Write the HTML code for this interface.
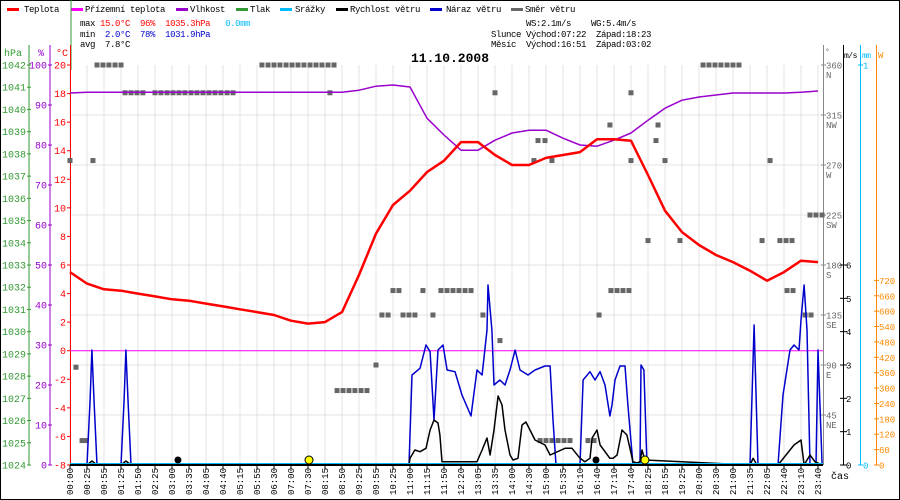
<!DOCTYPE html>
<html><head><meta charset="utf-8"><style>
html,body{margin:0;padding:0;background:#fff}
svg{display:block;font-family:"Liberation Mono","DejaVu Sans Mono",monospace}
svg text{white-space:pre}
</style></head><body>
<svg id="chart" width="900" height="500" viewBox="0 0 900 500">
<rect x="0.5" y="0.5" width="899" height="499" fill="#fff" stroke="#000"/>
<g id="grid"></g>
<g id="legend" font-size="9" letter-spacing="-0.4">
 <g><rect x="7" y="8" width="12" height="3" fill="#f00"/><text x="24" y="12">Teplota</text></g>
 <g><rect x="71" y="8" width="12" height="3" fill="#f0f"/><text x="85" y="12">Přízemní teplota</text></g>
 <g><rect x="176" y="8" width="12" height="3" fill="#90c"/><text x="190" y="12">Vlhkost</text></g>
 <g><rect x="236" y="8" width="12" height="3" fill="#393"/><text x="250" y="12">Tlak</text></g>
 <g><rect x="280" y="8" width="12" height="3" fill="#0bf"/><text x="295" y="12">Srážky</text></g>
 <g><rect x="336" y="8" width="12" height="3" fill="#000"/><text x="350" y="12">Rychlost větru</text></g>
 <g><rect x="430" y="8" width="12" height="3" fill="#00c"/><text x="446" y="12">Náraz větru</text></g>
 <g><rect x="511" y="8" width="12" height="3" fill="#666"/><text x="525" y="12">Směr větru</text></g>
</g>
<g font-size="9" letter-spacing="-0.4">
 <text x="80" y="26">max <tspan fill="#f00">15.0°C</tspan>  <tspan fill="#f00">96%</tspan>  <tspan fill="#f00">1035.3hPa</tspan>   <tspan fill="#0bf">0.0mm</tspan></text>
 <text x="80" y="37">min  <tspan fill="#00c">2.0°C</tspan>  <tspan fill="#00c">78%</tspan>  <tspan fill="#00c">1031.9hPa</tspan></text>
 <text x="80" y="47">avg  7.8°C</text>
 <text x="526" y="26">WS:2.1m/s    WG:5.4m/s</text>
 <text x="491" y="37">Slunce Východ:07:22  Západ:18:23</text>
 <text x="491" y="47">Měsíc  Východ:16:51  Západ:03:02</text>
</g>
<text x="450" y="62" font-size="13" font-weight="bold" text-anchor="middle">11.10.2008</text>
<g id="axes" font-size="10"></g>
<g id="series"></g>
</svg>
<script>
// ---- data ----
const timeLabels=["00:00","00:25","00:55","01:25","01:50","02:25","03:00","03:35","04:05","04:40","05:15","05:55","06:30","07:00","07:30","08:15","08:50","09:25","09:55","10:25","11:00","11:15","11:50","12:20","13:05","13:35","14:00","14:30","15:00","15:35","16:10","16:40","17:10","17:40","18:25","18:55","19:25","20:00","20:30","21:00","21:35","22:05","22:40","23:10","23:40"];
const tempValues=[5.5,4.7,4.3,4.2,4.0,3.8,3.6,3.5,3.3,3.1,2.9,2.7,2.5,2.1,1.9,2.0,2.7,5.3,8.2,10.2,11.2,12.5,13.3,14.6,14.6,13.7,13.0,13.0,13.5,13.7,13.9,14.8,14.8,14.7,12.3,9.8,8.3,7.4,6.7,6.2,5.6,4.9,5.5,6.3,6.2];
const humValues=[93,93.2,93.2,93.2,93.2,93.2,93.2,93.2,93.2,93.2,93.2,93.2,93.2,93.2,93.2,93.2,93.2,93.7,94.7,95,94.5,86.7,82.5,78.7,78.7,81.2,83,83.7,83.7,81.7,80,79.7,81.2,83,86.2,89.2,91.2,92,92.5,93,93,93,93,93.2,93.5];
const groundTemp=0;
const gustSlots=[0,1.0,1.18,1.29,1.41,1.59,3.0,3.18,3.29,3.41,3.59,19.94,20.12,20.59,20.94,21.18,21.41,21.65,21.94,22.18,22.65,23.06,23.59,23.94,24.24,24.53,24.59,24.82,24.94,25.29,25.59,25.88,26.18,26.47,26.94,27.35,27.94,28.24,28.41,28.59,30.0,30.18,30.59,30.88,31.18,31.47,31.76,31.88,32.06,32.35,32.65,32.82,33.12,33.53,33.59,33.76,33.94,40.0,40.24,40.47,41.65,41.94,42.35,42.59,42.88,43.0,43.18,43.35,43.53,43.88,44.0,44.24];
const gustValues=[0,0,1.95,3.45,1.95,0,0,1.95,3.45,1.95,0,0,2.7,2.9,3.6,3.4,1.35,3.45,3.6,2.85,2.8,2.1,1.47,2.85,2.7,4.05,5.4,4.05,2.4,2.55,2.4,2.85,3.45,2.85,2.7,2.85,2.97,2.97,1.35,0,0,2.55,2.8,2.55,2.8,2.4,1.47,1.8,2.55,2.97,2.97,1.8,0,0,3.0,2.85,0,0,4.2,0,0,2.1,3.45,3.6,3.45,4.35,5.4,4.05,0,0,3.45,0];
const windSlots=[0,1.0,1.29,1.59,3.0,3.29,3.59,19.94,20.0,20.29,20.59,20.94,21.18,21.41,21.65,21.76,21.88,23.94,24.24,24.53,24.71,24.94,25.18,25.41,25.59,25.88,26.06,26.35,26.59,26.82,27.06,27.35,27.94,28.24,29.12,29.53,30.0,30.29,30.59,30.71,31.0,31.18,31.76,31.94,32.18,32.47,32.76,33.12,33.35,33.53,33.65,33.82,40.0,40.18,40.41,41.65,42.35,42.59,43.0,43.18,43.53,43.82,44.24];
const windValues=[0,0,0.12,0,0,0.12,0,0,0.2,0.45,0.4,0.5,1.05,1.35,1.26,0.9,0.1,0.1,0.45,0.81,0.3,1.05,2.07,1.8,1.05,0.3,0.15,0.2,1.2,1.29,1.05,0.75,0.6,0.3,0.5,0.5,0.2,0.1,0.2,0.81,1.05,0.6,0.2,0.2,0.3,1.05,0.9,0.1,0.06,0.1,0.45,0.15,0,0.2,0,0,0.45,0.6,0.75,0,0.3,0.1,0];
const dirSlots=[1.59,1.94,2.29,2.65,3.0,11.29,11.65,12.0,12.35,12.71,13.06,13.41,13.76,14.12,14.47,14.82,15.18,15.53,37.24,37.59,37.94,38.29,38.65,39.0,39.35,
3.24,3.59,3.94,4.29,5.0,5.35,5.71,6.06,6.41,6.76,7.12,7.47,7.82,8.18,8.53,8.88,9.24,9.59,15.29,25.0,33.0,
0,1.35,27.53,27.94,33.0,34.59,41.18,27.29,28.35,31.76,34.47,35.0,43.53,43.88,44.24,34.0,35.88,40.71,41.76,42.12,42.47,
19.0,19.35,20.76,21.82,22.18,22.53,22.88,23.24,23.59,31.82,32.18,32.53,32.88,42.18,42.53,18.35,18.71,19.59,19.94,20.29,21.35,24.29,31.12,43.24,43.59,25.29,18.0,15.71,16.06,16.41,16.76,17.12,17.47,0.35,0.71,0.94,27.65,28.0,28.35,28.71,29.06,29.41,30.47,30.82];
const dirValues=[360,360,360,360,360,360,360,360,360,360,360,360,360,360,360,360,360,360,360,360,360,360,360,360,360,
335,335,335,335,335,335,335,335,335,335,335,335,335,335,335,335,335,335,335,335,335,
274,274,292,292,274,306,274,274,274,306,292,274,225,225,225,202,202,202,202,202,202,
157,157,157,157,157,157,157,157,157,157,157,157,157,157,157,135,135,135,135,135,135,135,135,135,135,112,90,67,67,67,67,67,67,88,22,22,22,22,22,22,22,22,22,22];
const pressTicks=[1042,1041,1040,1039,1038,1037,1036,1035,1034,1033,1032,1031,1030,1029,1028,1027,1026,1025,1024];
const humTicks=[100,90,80,70,60,50,40,30,20,10,0];
const tempTicks=[20,18,16,14,12,10,8,6,4,2,0,-2,-4,-6,-8];
const dirTicks=[360,315,270,225,180,135,90,45];
const dirNames=["N","NW","W","SW","S","SE","E","NE"];
const msTicks=[0,1,2,3,4,5,6];
const wTicks=[0,60,120,180,240,300,360,420,480,540,600,660,720];
const sunMarks=[14.06,33.82];
const moonMarks=[6.35,30.94];

// ---- scales ----
const X0=70,Y0=65,Y1=465,DX=17;
const xs=s=>X0+DX*s;
const yT=t=>Y1-(t+8)*(Y1-Y0)/28;
const yH=h=>Y1-h*(Y1-Y0)/100;
const yP=p=>Y1-(p-1024)*(Y1-Y0)/18;
const yD=d=>Y1-d*(Y1-Y0)/360;
const yM=v=>Y1-v*(Y1-Y0)/12;
const yW=w=>Y1-w*(Y1-Y0)/1560;
const NS="http://www.w3.org/2000/svg";
function mk(tag,attrs,parent,txt){const e=document.createElementNS(NS,tag);for(const k in attrs)e.setAttribute(k,attrs[k]);if(txt!==undefined)e.textContent=txt;parent.appendChild(e);return e;}
const grid=document.getElementById('grid'),axes=document.getElementById('axes'),series=document.getElementById('series');

timeLabels.forEach((l,i)=>{const g=mk('line',{x1:xs(i),x2:xs(i),y1:Y0,y2:Y1,stroke:'#e4e0e0'},grid);

});
for(let y=Y0+50;y<Y1;y+=50){const g=mk('line',{x1:X0,x2:823,y1:y,y2:y,stroke:'#e4e0e0'},grid);

}

mk('line',{x1:29,x2:29,y1:45,y2:Y1,stroke:'#393'},axes);
mk('line',{x1:50,x2:50,y1:45,y2:Y1,stroke:'#90c'},axes);
mk('line',{x1:71,x2:71,y1:0,y2:70,stroke:'#393'},axes);
mk('line',{x1:70.5,x2:70.5,y1:45,y2:Y1,stroke:'#f00'},axes);
mk('text',{x:4,y:56,fill:'#393'},axes,'hPa');
mk('text',{x:38,y:56,fill:'#90c'},axes,'%');
mk('text',{x:56,y:56,fill:'#f00'},axes,'°C');
pressTicks.forEach(p=>{const y=yP(p);mk('line',{x1:27,x2:31,y1:y,y2:y,stroke:'#393'},axes);
const t=mk('text',{x:2,y:y+3.5,fill:'#393'},axes,p);

});
humTicks.forEach(h=>{const y=yH(h);mk('line',{x1:48,x2:52,y1:y,y2:y,stroke:'#90c'},axes);
const t=mk('text',{x:47,y:y+3.5,fill:'#90c','text-anchor':'end'},axes,h);

});
tempTicks.forEach(v=>{const y=yT(v);mk('line',{x1:67,x2:71,y1:y,y2:y,stroke:'#f00'},axes);
const t=mk('text',{x:66,y:y+3.5,fill:'#f00','text-anchor':'end'},axes,v);

});

mk('line',{x1:823.5,x2:823.5,y1:45,y2:Y1,stroke:'#888'},axes);
mk('line',{x1:843.5,x2:843.5,y1:45,y2:Y1,stroke:'#000'},axes);
mk('line',{x1:860.5,x2:860.5,y1:45,y2:Y1,stroke:'#0bf'},axes);
mk('line',{x1:876.5,x2:876.5,y1:45,y2:Y1,stroke:'#f80'},axes);
mk('text',{x:825,y:54,fill:'#666','font-size':8},axes,'°');
mk('text',{x:844,y:58,fill:'#000','font-size':8,'letter-spacing':-0.5},axes,'m/s');
mk('text',{x:862,y:58,fill:'#0bf','font-size':8,'letter-spacing':-0.5},axes,'mm');
mk('text',{x:878,y:58,fill:'#f80','font-size':9},axes,'W');
dirTicks.forEach((d,i)=>{const y=yD(d);mk('line',{x1:821,x2:826,y1:y,y2:y,stroke:'#888'},axes);
const t=mk('text',{x:826,y:y+3.5,fill:'#666','font-size':9},axes,d);


mk('text',{x:826,y:y+13,fill:'#666','font-size':9},axes,dirNames[i]);});
msTicks.forEach(v=>{const y=yM(v);mk('line',{x1:840,x2:847,y1:y,y2:y,stroke:'#000'},axes);
const t=mk('text',{x:846,y:y+3.5,'font-size':9},axes,v);

});
mk('line',{x1:858,x2:863,y1:Y0,y2:Y0,stroke:'#0bf'},axes);mk('text',{x:863,y:Y0+3.5,fill:'#0bf','font-size':9},axes,'1');
mk('line',{x1:858,x2:863,y1:Y1,y2:Y1,stroke:'#0bf'},axes);mk('text',{x:863,y:Y1+3.5,fill:'#0bf','font-size':9},axes,'0');
wTicks.forEach(w=>{const y=yW(w);mk('line',{x1:874,x2:879,y1:y,y2:y,stroke:'#f80'},axes);
const t=mk('text',{x:879,y:y+3.5,fill:'#f80','font-size':9},axes,w);

});
mk('text',{x:831,y:479,'font-size':10},axes,'čas');

timeLabels.forEach((l,i)=>{const x=xs(i);mk('line',{x1:x,x2:x,y1:Y1,y2:Y1+4,stroke:'#000'},axes);
const t=mk('text',{x:0,y:0,'font-size':9,'text-anchor':'end',transform:`translate(${x+3},468) rotate(-90)`},axes,l);

});

function path(xsA,ysA,color,w,name){const d=xsA.map((x,i)=>(i?'L':'M')+x.toFixed(1)+','+ysA[i].toFixed(1)).join('');
const p=mk('path',{d:d,fill:'none',stroke:color,'stroke-width':w,'stroke-linejoin':'round'},series);

return p;}
dirSlots.forEach((s,i)=>{const r=mk('rect',{x:xs(s)-2.5,y:yD(dirValues[i])-2.5,width:5,height:5,fill:'#666'},series);

});
const gl=mk('line',{x1:X0,x2:823,y1:yT(groundTemp),y2:yT(groundTemp),stroke:'#f0f'},series);


path(tempValues.map((v,i)=>xs(i)),humValues.map(yH),'#90c',1.5,'humidity-line');
path(gustSlots.map(xs),gustValues.map(yM),'#00c',1.5,'wind-gust-line');
path(windSlots.map(xs),windValues.map(yM),'#000',1.5,'wind-speed-line');
path(tempValues.map((v,i)=>xs(i)),tempValues.map(yT),'#f00',2.5,'temperature-line');
const rl=mk('line',{x1:X0,x2:823,y1:Y1-1,y2:Y1-1,stroke:'#0bf','stroke-width':2},series);


const bl=mk('line',{x1:X0,x2:823,y1:Y1,y2:Y1,stroke:'#000','stroke-width':2},series);


sunMarks.forEach(s=>{const c=mk('circle',{cx:xs(s),cy:Y1-5,r:4,fill:'#ff0',stroke:'#000'},series);

});
moonMarks.forEach(s=>{const c=mk('circle',{cx:xs(s),cy:Y1-5,r:3.5,fill:'#000'},series);

});
</script>
</body></html>
